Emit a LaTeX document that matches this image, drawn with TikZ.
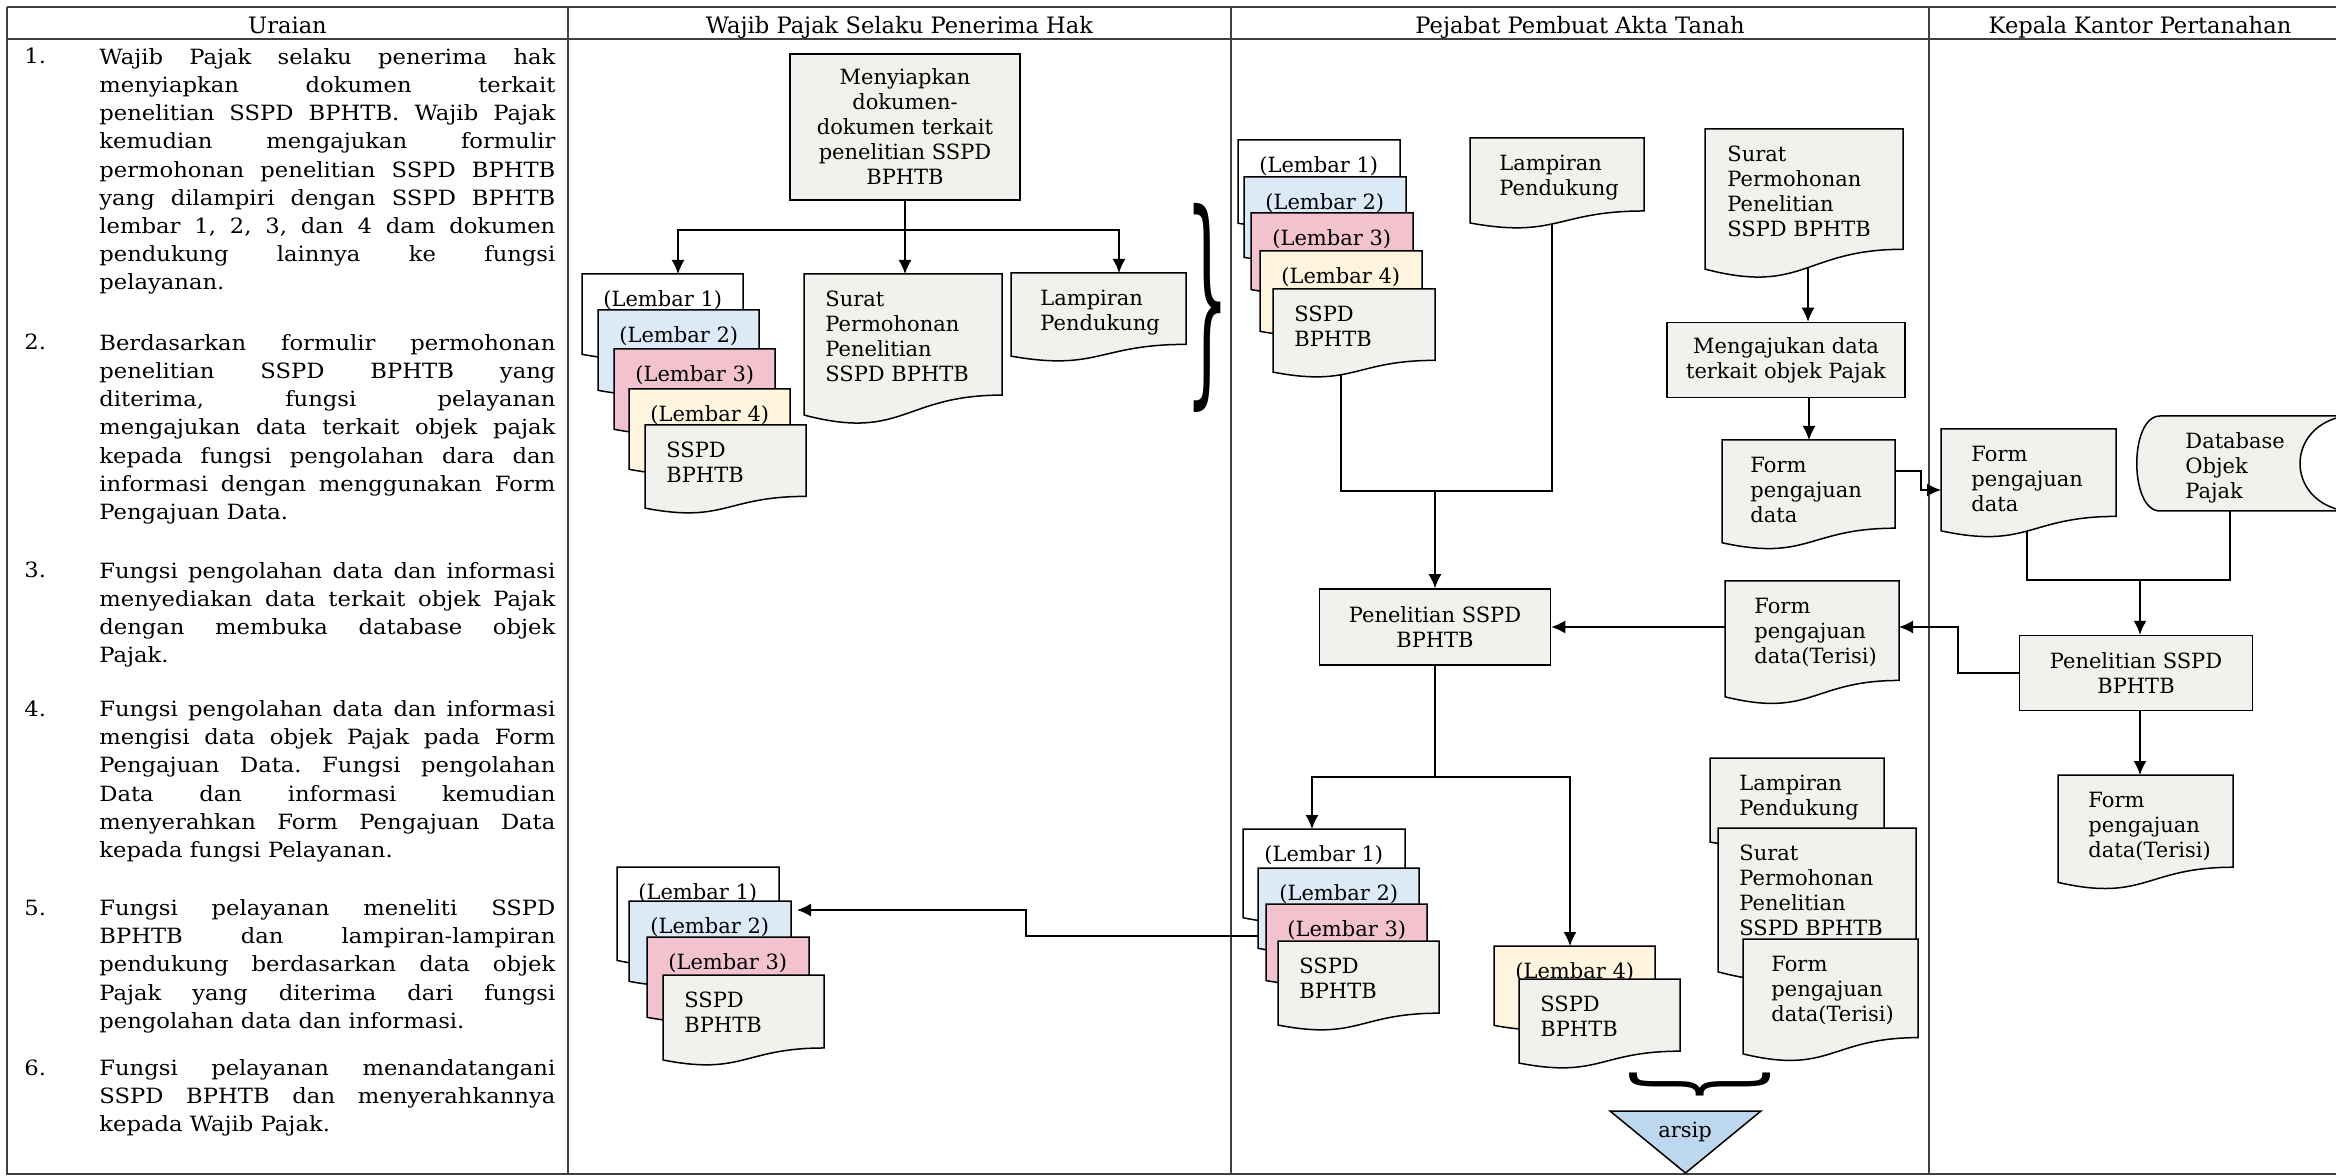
\documentclass[tikz,border=0pt]{standalone}
\usepackage{fontspec}
\setmainfont{DejaVu Serif}
\newfontfamily\uraifont{DejaVu Serif}[FakeStretch=1.08]
\usepackage{graphicx}
\usetikzlibrary{arrows.meta,positioning,calc}

\pgfdeclarelayer{latar}
\pgfsetlayers{latar,main}

\definecolor{abu}{RGB}{241,241,237}
\definecolor{biru}{RGB}{220,233,247}
\definecolor{merah}{RGB}{242,194,207}
\definecolor{krem}{RGB}{255,244,221}
\definecolor{arsipbiru}{RGB}{189,215,238}

\tikzset{
  kolom/.style = {draw=black!75, line width=0.6pt},
  judul/.style = {anchor=base, inner sep=0pt, font=\fontsize{11.3}{13}\selectfont},
  nomor/.style = {anchor=base west, inner sep=0pt, font=\uraifont\fontsize{10.5}{14.1}\selectfont},
  urai/.style = {anchor=north west, inner sep=0pt, text width=228pt, align=justify,
    font=\uraifont\fontsize{10.5}{14.1}\selectfont\frenchspacing,
    execute at begin node={\tolerance=10000\hbadness=10000\hyphenpenalty=10000\rule{0pt}{10pt}}},
  proses/.style = {draw, line width=0.75pt, fill=abu, align=center, inner sep=0pt,
    font=\fontsize{10.5}{12.5}\selectfont},
  dokbox/.style = {rectangle, anchor=north west, inner sep=0pt, outer sep=0pt},
  dokline/.style = {draw, line width=0.75pt},
  doktext/.style = {anchor=north west, inner sep=0pt, align=left,
    font=\fontsize{10.5}{12.5}\selectfont},
  alir/.style = {line width=0.75pt}
}

% dokumen bergelombang: [inset] nama, pojok kiri atas, lebar, tinggi, warna, teks
\newcommand{\dokumen}[7][21]{%
  \node[dokbox, minimum width=#4*0.5pt, minimum height=#5*0.5pt] (#2) at #3 {};
  \filldraw[dokline, fill=#6] (#2.north west) -- (#2.north east)
    -- ($(#2.north east)!0.802!(#2.south east)$)
    .. controls ($(#2.north)!0.802!(#2.south)$) and ($(#2.north)!1.107!(#2.south)$)
    .. ($(#2.north west)!0.934!(#2.south west)$) -- cycle;
  \node[doktext] (#2-t) at ($(#2.north west)+(#1,0)$) {\rule{0pt}{16pt}#7};
}

\begin{document}
\begin{tikzpicture}[x=0.5pt, y=-0.5pt, >={Latex[length=7pt,width=6.5pt]}]
\useasboundingbox (0,0) rectangle (2336,1176);
\begin{pgfonlayer}{latar}
\fill[white] (0,0) rectangle (2336,1176);
\end{pgfonlayer}

% tabel
\draw[kolom] (7,7) -- (2350,7) (7,39) -- (2350,39) (7,7) -- (7,1174) -- (2350,1174);
\foreach \x in {568,1231,1929} \draw[kolom] (\x,7) -- (\x,1174);

\node[judul] (jUraian) at (287.5,33.5) {Uraian};
\node[judul] (jWajib) at (899.5,33.5) {Wajib Pajak Selaku Penerima Hak};
\node[judul] (jPPAT) at (1580,33.5) {Pejabat Pembuat Akta Tanah};
\node[judul] (jKantor) at (2140,33.5) {Kepala Kantor Pertanahan};

% uraian
\node[nomor] (n1) at (24,64) {1.};
\node[urai] (u1) at (99,44) {Wajib Pajak selaku penerima hak\linebreak
  menyiapkan dokumen terkait\linebreak penelitian SSPD BPHTB. Wajib Pajak\linebreak
  kemudian mengajukan formulir\linebreak permohonan penelitian SSPD BPHTB\linebreak
  yang dilampiri dengan SSPD BPHTB\linebreak lembar 1, 2, 3, dan 4 dam dokumen\linebreak
  pendukung lainnya ke fungsi\linebreak pelayanan.};
\node[nomor] (n2) at (24,350) {2.};
\node[urai] (u2) at (99,330) {Berdasarkan formulir permohonan\linebreak
  penelitian SSPD BPHTB yang\linebreak diterima, fungsi pelayanan\linebreak
  mengajukan data terkait objek pajak\linebreak kepada fungsi pengolahan dara dan\linebreak
  informasi dengan menggunakan Form\linebreak Pengajuan Data.};
\node[nomor] (n3) at (24,578) {3.};
\node[urai] (u3) at (99,558) {Fungsi pengolahan data dan informasi\linebreak
  menyediakan data terkait objek Pajak\linebreak dengan membuka database objek\linebreak Pajak.};
\node[nomor] (n4) at (24,716) {4.};
\node[urai] (u4) at (99,696) {Fungsi pengolahan data dan informasi\linebreak
  mengisi data objek Pajak pada Form\linebreak Pengajuan Data. Fungsi pengolahan\linebreak
  Data dan informasi kemudian\linebreak menyerahkan Form Pengajuan Data\linebreak
  kepada fungsi Pelayanan.};
\node[nomor] (n5) at (24,915) {5.};
\node[urai] (u5) at (99,895) {Fungsi pelayanan meneliti SSPD\linebreak
  BPHTB dan lampiran-lampiran\linebreak pendukung berdasarkan data objek\linebreak
  Pajak yang diterima dari fungsi\linebreak pengolahan data dan informasi.};
\node[nomor] (n6) at (24,1075) {6.};
\node[urai] (u6) at (99,1055) {Fungsi pelayanan menandatangani\linebreak
  SSPD BPHTB dan menyerahkannya\linebreak kepada Wajib Pajak.};

% wajib pajak
\node[proses, minimum width=115pt, minimum height=73pt] (siap) at (905,127)
  {Menyiapkan\\dokumen-\\dokumen terkait\\penelitian SSPD\\BPHTB};
\dokumen{a1}{(582,274)}{161}{86}{white}{(Lembar 1)}
\dokumen{a2}{(598,310)}{161}{86}{biru}{(Lembar 2)}
\dokumen{a3}{(614,349)}{161}{86}{merah}{(Lembar 3)}
\dokumen{a4}{(629,389)}{161}{86}{krem}{(Lembar 4)}
\dokumen{a5}{(645,425)}{161}{89}{abu}{SSPD\\BPHTB}
\dokumen{surat2}{(804,274)}{198}{151}{abu}{Surat\\Permohonan\\Penelitian\\SSPD BPHTB}
\dokumen[29]{lamp2}{(1011,273)}{175}{89}{abu}{Lampiran\\Pendukung}
\node (kurung1) at (1207,308) {\resizebox{22pt}{86pt}{\}}};

\dokumen{b1}{(617,867)}{162}{100}{white}{(Lembar 1)}
\dokumen{b2}{(629,901)}{162}{86}{biru}{(Lembar 2)}
\dokumen{b3}{(647,937)}{162}{86}{merah}{(Lembar 3)}
\dokumen{b4}{(663,975)}{161}{91}{abu}{SSPD\\BPHTB}

\coordinate (cab2) at (905,230);
\draw[alir] (siap) -- (cab2);
\draw[alir,->] (cab2) -| ($(a1.north west)+(96,0)$);
\draw[alir,->] (cab2) -- (cab2 |- surat2.north);
\draw[alir,->] (cab2) -| ($(lamp2.north west)+(108,0)$);

% pejabat pembuat akta tanah
\dokumen{c1}{(1238,140)}{162}{89}{white}{(Lembar 1)}
\dokumen{c2}{(1244,177)}{162}{86}{biru}{(Lembar 2)}
\dokumen{c3}{(1251,213)}{162}{82}{merah}{(Lembar 3)}
\dokumen{c4}{(1260,251)}{162}{86}{krem}{(Lembar 4)}
\dokumen{c5}{(1273,289)}{162}{89}{abu}{SSPD\\BPHTB}
\dokumen[29]{lamp3}{(1470,138)}{174}{91}{abu}{Lampiran\\Pendukung}
\dokumen[22]{surat3}{(1705,129)}{198}{150}{abu}{Surat\\Permohonan\\Penelitian\\SSPD BPHTB}
\node[proses, minimum width=119pt, minimum height=37.5pt] (mengaju) at (1786,360)
  {Mengajukan data\\terkait objek Pajak};
\dokumen[28]{form3}{(1722,440)}{173}{110}{abu}{Form\\pengajuan\\data}
\node[proses, minimum width=115.5pt, minimum height=38pt] (teliti3) at (1435,627)
  {Penelitian SSPD\\BPHTB};
\dokumen[29]{formT3}{(1725,581)}{174}{124}{abu}{Form\\pengajuan\\data(Terisi)}

\dokumen{d1}{(1243,829)}{162}{95}{white}{(Lembar 1)}
\dokumen{d2}{(1258,868)}{161}{86}{biru}{(Lembar 2)}
\dokumen{d3}{(1266,904)}{161}{82}{merah}{(Lembar 3)}
\dokumen{d4}{(1278,941)}{161}{90}{abu}{SSPD\\BPHTB}
\dokumen{e1}{(1494,946)}{161}{85}{krem}{(Lembar 4)}
\dokumen{e2}{(1519,979)}{161}{90}{abu}{SSPD\\BPHTB}
\dokumen[29]{lamp3b}{(1710,758)}{174}{90}{abu}{Lampiran\\Pendukung}
\dokumen{surat3b}{(1718,828)}{198}{154}{abu}{Surat\\Permohonan\\Penelitian\\SSPD BPHTB}
\dokumen[28]{formT3b}{(1743,939)}{175}{123}{abu}{Form\\pengajuan\\data(Terisi)}
\node[rotate=-90] (kurung2) at (1700,1084) {\resizebox{19pt}{58pt}{\}}};
\filldraw[dokline, fill=arsipbiru] (1610,1111) -- (1761,1111) -- (1685.5,1173) -- cycle;
\node[anchor=base, inner sep=0pt, font=\fontsize{10.5}{12.5}\selectfont] (arsip) at (1685,1137) {arsip};

% kepala kantor pertanahan
\dokumen[30]{form4}{(1941,429)}{175}{109}{abu}{Form\\pengajuan\\data}
\node[dokbox, anchor=center, minimum width=104pt, minimum height=47.5pt] (db) at (2241,463.5) {};
\filldraw[dokline, fill=abu] ($(db.north west)+(23,0)$) -- (db.north east)
  .. controls ($(db.north east)+(-60,10)$) and ($(db.south east)+(-60,-10)$) .. (db.south east)
  -- ($(db.south west)+(23,0)$)
  .. controls ($(db.south west)+(-8,0)$) and ($(db.north west)+(-8,0)$) .. cycle;
\node[doktext] (db-t) at ($(db.north west)+(48,0)$) {\rule{0pt}{16pt}Database\\Objek\\Pajak};
\node[proses, minimum width=116.5pt, minimum height=37.5pt] (teliti4) at (2136,673)
  {Penelitian SSPD\\BPHTB};
\dokumen[30]{formT4}{(2058,775)}{175}{115}{abu}{Form\\pengajuan\\data(Terisi)}

% alur
\coordinate (gab3) at (1435,491);
\coordinate (gab4) at (2140,580);
\coordinate (belok4) at (1958,627);
\coordinate (cab3) at (1435,777);
\coordinate (belok3) at (1026,910);
\begin{pgfonlayer}{latar}
\draw[alir] ($(c5.north west)+(68,40)$) |- (gab3);
\draw[alir] ($(lamp3.north west)+(82,40)$) |- (gab3);
\draw[alir,->] ($(surat3.north west)+(103,60)$) -- ($(mengaju.north)+(22,0)$);
\draw[alir] ($(form4.north west)+(86,60)$) |- (gab4);
\end{pgfonlayer}
\draw[alir,->] (gab3) -- (teliti3);
\draw[alir,->] ($(mengaju.south)+(23,0)$) -- ($(form3.north west)+(87,0)$);
\draw[alir,->] ($(form3.north east)+(0,31)$) -- ++(26,0) |- ($(form4.north west)+(0,61)$);
\draw[alir] ($(db.south)+(-11,0)$) |- (gab4);
\draw[alir,->] (gab4) -- (gab4 |- teliti4.north);
\draw[alir,->] (teliti4.south -| gab4) -- (formT4.north -| gab4);
\draw[alir,->] (teliti4.west) -| (belok4) -- (formT3.east |- belok4);
\draw[alir,->] (formT3.west |- teliti3.east) -- (teliti3.east);
\draw[alir] (teliti3) -- (cab3);
\draw[alir,->] (cab3) -| ($(d1.north west)+(69,0)$);
\draw[alir,->] (cab3) -| ($(e1.north west)+(76,0)$);
\draw[alir,->] ($(d2.north west)+(0,68)$) -| (belok3) -- ($(b2.north east)+(6,9)$);

\end{tikzpicture}
\end{document}
